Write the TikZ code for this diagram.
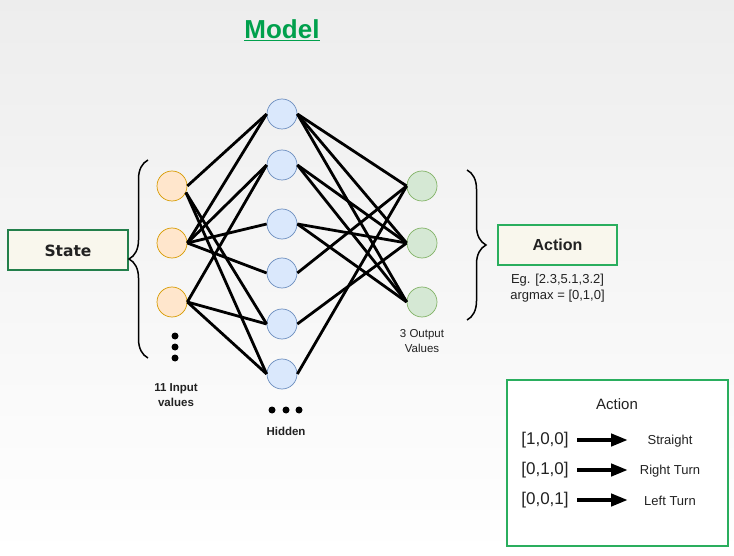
\documentclass[tikz,border=0pt]{standalone}
\usepackage{fontspec}
\setmainfont{Liberation Sans}
\newfontfamily\statefont{DejaVu Sans}
\usetikzlibrary{arrows.meta,decorations.pathreplacing}

\definecolor{titlegreen}{HTML}{00A04C}
\definecolor{boxfill}{HTML}{F9F7ED}
\definecolor{stategreen}{HTML}{237F4B}
\definecolor{actiongreen}{HTML}{2AAE5E}
\definecolor{infill}{HTML}{FFE6CC}
\definecolor{inborder}{HTML}{D79B00}
\definecolor{hidfill}{HTML}{DAE8FC}
\definecolor{hidborder}{HTML}{6C8EBF}
\definecolor{outfill}{HTML}{D5E8D4}
\definecolor{outborder}{HTML}{82B366}
\definecolor{textgray}{HTML}{222222}

\begin{document}
\begin{tikzpicture}[x=1pt,y=-1pt]
	\tikzset{neuron/.style={circle,minimum size=30pt,inner sep=0pt,line width=0.7pt}}
	\tikzset{inneuron/.style={neuron,draw=inborder,fill=infill}}
	\tikzset{hidneuron/.style={neuron,draw=hidborder,fill=hidfill}}
	\tikzset{outneuron/.style={neuron,draw=outborder,fill=outfill}}
	\tikzset{link/.style={line width=2.8pt,black}}
	\tikzset{dot/.style={circle,fill=black,minimum size=7pt,inner sep=0pt}}
	\tikzset{bracebar/.style={decorate,decoration={brace,amplitude=19pt,aspect=0.5},line width=1.5pt}}
	\tikzset{smalllabel/.style={align=center,font=\fontsize{12}{14.5}\selectfont,text=textgray}}
	\tikzset{bigarrow/.style={line width=4.2pt,-{Triangle[length=17pt,width=12pt]}}}
	% background
	\shade[top color=black!7,bottom color=white] (0,0) rectangle (734,556);
	\useasboundingbox (0,0) rectangle (734,556);
	\node[text=titlegreen,font=\fontsize{26}{30}\selectfont\bfseries] (title) at (282,30) {\underline{Model}};
	% layers
	\foreach \y [count=\i] in {186,243,302}
		\node[inneuron] (i\i) at (172,\y) {};
	\foreach \y [count=\i] in {114,165,224,273,324,374}
		\node[hidneuron] (h\i) at (282,\y) {};
	\foreach \y [count=\i] in {186,243,302}
		\node[outneuron] (o\i) at (422,\y) {};
	% input -> hidden
	\foreach \a/\b in {i1/h1,i2/h1,i2/h2,i2/h3,i2/h4,i3/h2,i3/h5,i3/h6}
		\draw[link] (\a.east) -- (\b.west);
	\foreach \b in {h5,h6}
		\draw[link] (i1.-25) -- (\b.west);
	% hidden -> output
	\foreach \a/\b in {h1/o1,h1/o2,h1/o3,h2/o2,h2/o3,h3/o2,h3/o3,h4/o1,h5/o2,h6/o1}
		\draw[link] (\a.east) -- (\b.west);
	% dots
	\foreach \y [count=\i] in {336,347,358}
		\node[dot] (vd\i) at (175,\y) {};
	\foreach \x [count=\i] in {272,286,299}
		\node[dot] (hd\i) at (\x,410) {};
	% labels
	\node[smalllabel,font=\fontsize{11.5}{14.5}\selectfont\bfseries] (inlabel) at (176,395) {11 Input\\values};
	\node[smalllabel,font=\fontsize{11.5}{14}\selectfont\bfseries] (hidlabel) at (286,431) {Hidden};
	\node[smalllabel,font=\fontsize{11.5}{14.5}\selectfont] (outlabel) at (422,341) {3 Output\\Values};
	% state and action
	\node[draw=stategreen,fill=boxfill,line width=2pt,minimum width=120pt,minimum height=40pt,
		font=\statefont\fontsize{15.5}{18}\selectfont\bfseries,text=textgray] (state) at (68,250.5) {State};
	\node[draw=actiongreen,fill=boxfill,line width=2pt,minimum width=119pt,minimum height=40pt,
		font=\fontsize{16}{19}\selectfont\bfseries,text=textgray] (action) at (557.5,245) {Action};
	\node[smalllabel,font=\fontsize{13}{16}\selectfont,anchor=north,yshift=-5pt] (example) at (action.south) {Eg. [2.3,5.1,3.2]\\argmax = [0,1,0]};
	\draw[bracebar] (148,358) -- (148,160);
	\draw[bracebar] (467,170) -- (467,320);
	% legend
	\node[draw=actiongreen,fill=white,line width=2pt,minimum width=221pt,minimum height=166pt] (legend) at (617.5,462.5) {};
	\node[font=\fontsize{15}{18}\selectfont,text=textgray] (legtitle) at (617,404) {Action};
	\foreach \y/\v/\t [count=\i] in {440/{[1,0,0]}/Straight,470/{[0,1,0]}/Right Turn,500/{[0,0,1]}/Left Turn} {
		\node[font=\fontsize{17}{20}\selectfont,text=textgray] (vec\i) at (545,\y) {\v};
		\coordinate (tip\i) at (628,\y);
		\node[font=\fontsize{13}{16}\selectfont,text=textgray] (move\i) at (670,\y+1) {\t};
		\draw[bigarrow,shorten <=5pt] (vec\i.east) -- (tip\i);
	}
\end{tikzpicture}
\end{document}
